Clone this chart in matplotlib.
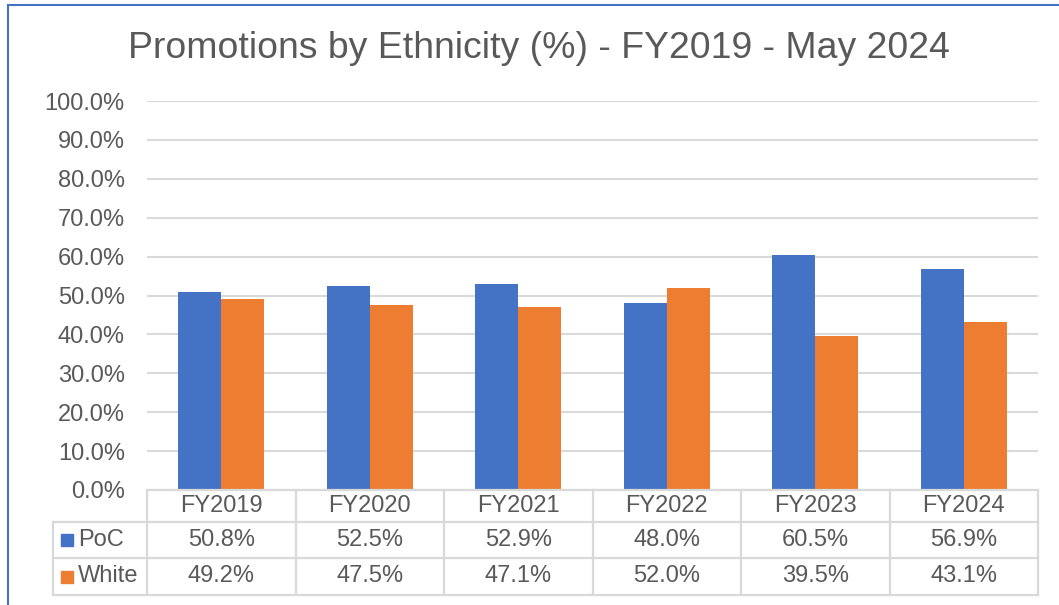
import matplotlib
matplotlib.use("Agg")
import matplotlib.pyplot as plt
from matplotlib.lines import Line2D
from matplotlib.patches import Rectangle
import numpy as np

categories = ["FY2019", "FY2020", "FY2021", "FY2022", "FY2023", "FY2024"]
series_names = ["PoC", "White"]
poc = [50.8, 52.5, 52.9, 48.0, 60.5, 56.9]
white = [49.2, 47.5, 47.1, 52.0, 39.5, 43.1]
title = "Promotions by Ethnicity (%) - FY2019 - May 2024"

BLUE = "#4472C4"
ORANGE = "#ED7D31"
TEXT = "#595959"
GRID = "#D9D9D9"
FONT = "Liberation Sans"

W, H = 1059, 605
fig = plt.figure(figsize=(W / 100, H / 100), dpi=100)

def fx(px):
    return px / W

def fy(py):
    return 1 - py / H

ax_l, ax_r, ax_t, ax_b = 147, 1038, 101, 490
ax = fig.add_axes([fx(ax_l), fy(ax_b), fx(ax_r) - fx(ax_l), fy(ax_t) - fy(ax_b)])

x = np.arange(len(categories))
w = 0.29
ax.bar(x - w / 2, poc, w, color=BLUE, zorder=3)
ax.bar(x + w / 2, white, w, color=ORANGE, zorder=3)
ax.set_xlim(-0.5, len(categories) - 0.5)
ax.set_ylim(0, 100)
ax.set_yticks(np.arange(0, 101, 10))
ax.set_yticklabels([f"{v:.1f}%" for v in np.arange(0, 101, 10)],
                   fontsize=17, color=TEXT, family=FONT)
ax.tick_params(axis="y", length=0, pad=16)
ax.set_xticks([])
for s in ax.spines.values():
    s.set_visible(False)
ax.grid(axis="y", color=GRID, linewidth=1.5, zorder=0)

fig.text(0.5 * (fx(130) + fx(948)), fy(48), title, ha="center", va="center",
         fontsize=26.9, color=TEXT, family=FONT)

# Data table
def line(x0, x1, y0, y1):
    fig.add_artist(Line2D([fx(x0), fx(x1)], [fy(y0), fy(y1)], color=GRID,
                          linewidth=1.6, transform=fig.transFigure))

leg_l = 53
rows = [490, 522, 558, 595]
line(ax_l, ax_r, rows[0], rows[0])
for r in rows[1:]:
    line(leg_l, ax_r, r, r)
line(leg_l, leg_l, rows[1], rows[3])
cat_w = (ax_r - ax_l) / len(categories)
for k in range(len(categories) + 1):
    xb = ax_l + k * cat_w
    line(xb, xb, rows[0], rows[3])

for k, cat in enumerate(categories):
    cx = ax_l + (k + 0.5) * cat_w
    fig.text(fx(cx), fy((rows[0] + rows[1]) / 2), cat, ha="center", va="center",
             fontsize=17, color=TEXT, family=FONT)
    fig.text(fx(cx), fy((rows[1] + rows[2]) / 2), f"{poc[k]:.1f}%", ha="center",
             va="center", fontsize=17, color=TEXT, family=FONT)
    fig.text(fx(cx), fy((rows[2] + rows[3]) / 2), f"{white[k]:.1f}%", ha="center",
             va="center", fontsize=17, color=TEXT, family=FONT)

for i, (name, col) in enumerate(zip(series_names, [BLUE, ORANGE])):
    yc = (rows[1 + i] + rows[2 + i]) / 2
    fig.add_artist(Rectangle((fx(61), fy(yc + 6)), fx(12), 12 / H, color=col,
                             transform=fig.transFigure))
    fig.text(fx(78), fy(yc), name, ha="left", va="center", fontsize=17,
             color=TEXT, family=FONT)

# chart border
fig.add_artist(Line2D([fx(8), fx(W + 5)], [fy(5), fy(5)], color=BLUE,
                      linewidth=1.5, transform=fig.transFigure))
fig.add_artist(Line2D([fx(8), fx(8)], [fy(5), fy(H + 5)], color=BLUE,
                      linewidth=1.5, transform=fig.transFigure))

fig.savefig("out.png", dpi=100)
